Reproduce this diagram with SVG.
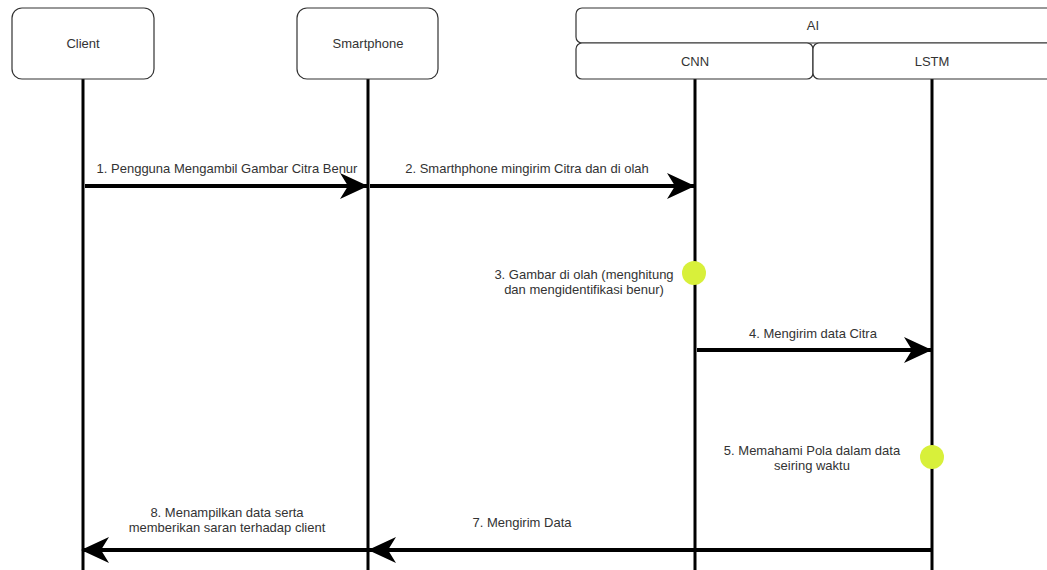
<svg xmlns="http://www.w3.org/2000/svg" width="1047" height="570" viewBox="0 0 1047 570">
<defs>
<style>
.box{fill:#ffffff;stroke:#333333;stroke-width:1.2}
.life{stroke:#000000;stroke-width:3;fill:none}
.msg{stroke:#000000;stroke-width:4;fill:none}
.t{font-family:"Liberation Sans",Arial,sans-serif;font-size:13px;fill:#333333;text-anchor:middle}
.dot{fill:#d8f03a}
</style>
<marker id="ah" viewBox="0 0 28 26" refX="27" refY="13" markerWidth="28" markerHeight="26" markerUnits="userSpaceOnUse" orient="auto-start-reverse">
<path d="M0,0 L28,13 L0,26 L8,13 Z" fill="#000000"/>
</marker>
</defs>
<rect width="1047" height="570" fill="#ffffff"/>
<g id="lifelines">
<line class="life" x1="83" y1="79" x2="83" y2="570"/>
<line class="life" x1="368" y1="79" x2="368" y2="570"/>
<line class="life" x1="695" y1="79" x2="695" y2="570"/>
<line class="life" x1="932" y1="79" x2="932" y2="570"/>
</g>
<g id="client"><rect class="box" x="12" y="8" width="142" height="71" rx="10"/><text class="t" x="83" y="48">Client</text></g>
<g id="smartphone"><rect class="box" x="297" y="8" width="141" height="71" rx="10"/><text class="t" x="368" y="48">Smartphone</text></g>
<g id="ai"><rect class="box" x="576" y="8" width="490" height="35" rx="6"/><text class="t" x="813" y="30">AI</text></g>
<g id="cnn"><rect class="box" x="576" y="43" width="237" height="36" rx="6"/><text class="t" x="695" y="66">CNN</text></g>
<g id="lstm"><rect class="box" x="813" y="43" width="253" height="36" rx="6"/><text class="t" x="932" y="66">LSTM</text></g>
<g id="connectors">
<line class="msg" x1="85" y1="186" x2="367" y2="186" marker-end="url(#ah)"/>
<line class="msg" x1="370" y1="186" x2="694" y2="186" marker-end="url(#ah)"/>
<line class="msg" x1="697" y1="350" x2="931" y2="350" marker-end="url(#ah)"/>
<line class="msg" x1="932" y1="550" x2="369" y2="550" marker-end="url(#ah)"/>
<line class="msg" x1="368" y1="550" x2="82" y2="550" marker-end="url(#ah)"/>
</g>
<g id="dot3"><circle class="dot" cx="694" cy="273" r="12"/></g>
<g id="dot5"><circle class="dot" cx="932" cy="457" r="12"/></g>
<g id="labels">
<text class="t" x="227" y="173">1. Pengguna Mengambil Gambar Citra Benur</text>
<text class="t" x="527" y="173">2. Smarthphone mingirim Citra dan di olah</text>
<text class="t" x="584" y="279">3. Gambar di olah (menghitung</text>
<text class="t" x="584" y="294">dan mengidentifikasi benur)</text>
<text class="t" x="813" y="338">4. Mengirim data Citra</text>
<text class="t" x="812" y="455">5. Memahami Pola dalam data</text>
<text class="t" x="812" y="470">seiring waktu</text>
<text class="t" x="522" y="527">7. Mengirim Data</text>
<text class="t" x="227" y="517">8. Menampilkan data serta</text>
<text class="t" x="227" y="532">memberikan saran terhadap client</text>
</g>
</svg>
